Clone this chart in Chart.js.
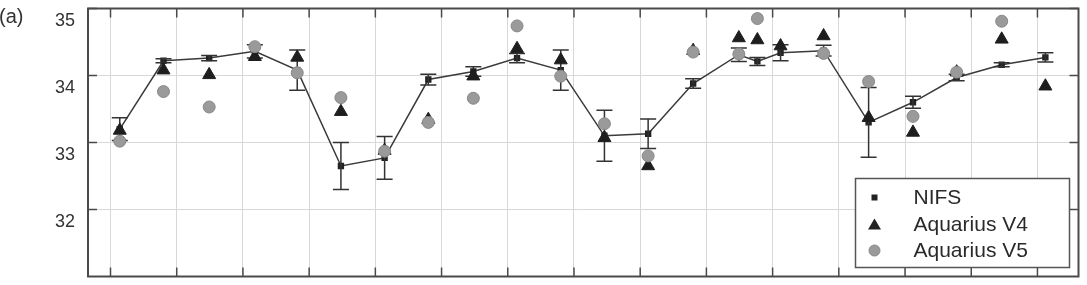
<!DOCTYPE html>
<html>
<head>
<meta charset="utf-8">
<script src="https://cdn.jsdelivr.net/npm/chart.js@4/dist/chart.umd.min.js"></script>
<style>
  html, body { margin: 0; padding: 0; background: #fff; }
  #wrap { width: 1087px; height: 285px; }
</style>
</head>
<body>
<div id="wrap"><canvas id="c" width="1087" height="285"></canvas></div>
<script>
// sampling positions (in grid intervals along the time axis)
const xPos = [0.14, 0.80, 1.49, 2.18, 2.82, 3.48, 4.14, 4.80, 5.48, 6.14, 6.80, 7.46,
              8.12, 8.80, 9.49, 9.77, 10.12, 10.77, 11.45, 12.12, 12.78, 13.46, 14.12];
const nifs = [33.20, 34.22, 34.26, 34.36, 34.08, 32.65, 32.77, 33.94, 34.06, 34.26, 34.08, 33.10,
              33.13, 33.88, 34.31, 34.21, 34.34, 34.37, 33.30, 33.60, 33.97, 34.16, 34.27];
const nifsErr = [0.17, 0.03, 0.04, 0.10, 0.30, 0.35, 0.32, 0.08, 0.07, 0.07, 0.30, 0.38,
                 0.22, 0.07, 0.10, 0.06, 0.12, 0.08, 0.52, 0.09, 0.05, 0.03, 0.07];
const aqV4 = [33.18, 34.08, 34.01, 34.28, 34.27, 33.46, 32.88, 33.34, 33.99, 34.40, 34.23, 33.07,
              32.65, 34.37, 34.56, 34.53, 34.44, 34.59, 33.37, 33.15, 34.05, 34.54, 33.84];
const aqV5 = [33.02, 33.76, 33.53, 34.43, 34.04, 33.67, 32.87, 33.30, 33.66, 34.74, 33.99, 33.28,
              32.80, 34.35, 34.32, 34.85, null, 34.33, 33.91, 33.39, 34.05, 34.81, null];
const yTicks = [32, 33, 34, 35];
const xGrid = [0, 1, 2, 3, 4, 5, 6, 7, 8, 9, 10, 11, 12, 13, 14];
const labels = ['NIFS', 'Aquarius V4', 'Aquarius V5'];

const pts = arr => xPos.map((x, i) => ({ x: x, y: arr[i] })).filter(p => p.y !== null);

const font = "'Liberation Sans', Arial, sans-serif";
const frameColor = '#4a4a4a';

const extras = {
    id: 'extras',
    afterDatasetDraw(chart, args) {
        // error bars on the NIFS series
        if (args.index !== 0) return;
        const ctx = chart.ctx, xs = chart.scales.x, ys = chart.scales.y;
        ctx.save();
        ctx.strokeStyle = '#333';
        ctx.lineWidth = 1.5;
        xPos.forEach((xv, i) => {
            const x = xs.getPixelForValue(xv);
            const y1 = ys.getPixelForValue(nifs[i] + nifsErr[i]);
            const y2 = ys.getPixelForValue(nifs[i] - nifsErr[i]);
            ctx.beginPath();
            ctx.moveTo(x, y1); ctx.lineTo(x, y2);
            ctx.moveTo(x - 8, y1); ctx.lineTo(x + 8, y1);
            ctx.moveTo(x - 8, y2); ctx.lineTo(x + 8, y2);
            ctx.stroke();
        });
        ctx.restore();
    },
    afterDraw(chart) {
        const ctx = chart.ctx, a = chart.chartArea;
        const xs = chart.scales.x, ys = chart.scales.y;
        ctx.save();
        // inner tick marks
        ctx.strokeStyle = frameColor;
        ctx.lineWidth = 1.5;
        ctx.beginPath();
        xGrid.forEach(v => {
            const x = xs.getPixelForValue(v);
            ctx.moveTo(x, a.top); ctx.lineTo(x, a.top + 9);
            ctx.moveTo(x, a.bottom); ctx.lineTo(x, a.bottom - 9);
        });
        yTicks.forEach(v => {
            const y = ys.getPixelForValue(v);
            ctx.moveTo(a.left, y); ctx.lineTo(a.left + 9, y);
            ctx.moveTo(a.right, y); ctx.lineTo(a.right - 9, y);
        });
        ctx.stroke();
        // frame
        ctx.lineWidth = 2;
        ctx.strokeRect(a.left, a.top, a.right - a.left, a.bottom - a.top);

        // panel label
        ctx.fillStyle = '#333';
        ctx.font = '20px ' + font;
        ctx.textBaseline = 'alphabetic';
        ctx.fillText('(a)', -1, 23);

        // legend box
        const bw = 214, bh = 89;
        const bx = a.right - 9 - bw, by = a.bottom - 9 - bh;
        ctx.fillStyle = '#fff';
        ctx.fillRect(bx, by, bw, bh);
        ctx.strokeStyle = '#555';
        ctx.lineWidth = 1.5;
        ctx.strokeRect(bx, by, bw, bh);
        const mx = bx + 19, tx = bx + 58;
        const rows = [by + 19, by + 46, by + 72];
        // square
        ctx.fillStyle = '#222';
        ctx.fillRect(mx - 3, rows[0] - 3, 6, 6);
        // triangle
        ctx.beginPath();
        ctx.moveTo(mx, rows[1] - 6);
        ctx.lineTo(mx + 6.5, rows[1] + 5);
        ctx.lineTo(mx - 6.5, rows[1] + 5);
        ctx.closePath();
        ctx.fill();
        // circle
        ctx.beginPath();
        ctx.arc(mx, rows[2], 5.5, 0, Math.PI * 2);
        ctx.fillStyle = '#9a9a9a';
        ctx.fill();
        ctx.strokeStyle = '#888';
        ctx.lineWidth = 1;
        ctx.stroke();
        ctx.fillStyle = '#2a2a2a';
        ctx.font = '21px ' + font;
        ctx.textBaseline = 'middle';
        labels.forEach((t, i) => ctx.fillText(t, tx, rows[i] + 1));
        ctx.restore();
    }
};

new Chart(document.getElementById('c'), {
    type: 'scatter',
    data: {
        datasets: [
            {
                label: labels[0],
                data: pts(nifs),
                showLine: true,
                borderColor: '#3a3a3a',
                borderWidth: 1.5,
                pointStyle: 'rect',
                pointRadius: 4.5,
                pointBackgroundColor: '#222',
                pointBorderColor: '#222',
                pointBorderWidth: 0,
                order: 3
            },
            {
                label: labels[1],
                data: pts(aqV4),
                pointStyle: 'triangle',
                pointRadius: 7.5,
                pointBackgroundColor: '#1e1e1e',
                pointBorderColor: '#1e1e1e',
                pointBorderWidth: 1,
                order: 2
            },
            {
                label: labels[2],
                data: pts(aqV5),
                pointStyle: 'circle',
                pointRadius: 6,
                pointBackgroundColor: '#9a9a9a',
                pointBorderColor: '#888',
                pointBorderWidth: 1,
                order: 1
            }
        ]
    },
    options: {
        responsive: false,
        animation: false,
        layout: { padding: { left: 0, top: 4, right: 7, bottom: 2 } },
        plugins: {
            legend: { display: false },
            tooltip: { enabled: false }
        },
        scales: {
            x: {
                type: 'linear',
                min: -0.34,
                max: 14.62,
                afterBuildTicks: axis => { axis.ticks = xGrid.map(v => ({ value: v })); },
                ticks: { display: false },
                grid: { color: '#d8d8d8', lineWidth: 1, drawTicks: false },
                border: { display: false }
            },
            y: {
                min: 31,
                max: 35,
                afterBuildTicks: axis => { axis.ticks = yTicks.map(v => ({ value: v })); },
                afterFit: scale => {
                    scale.width = 88;
                    scale.paddingTop = 0;
                    scale.paddingBottom = 0;
                },
                ticks: {
                    color: '#333',
                    font: { family: font, size: 18 },
                    padding: 13,
                    labelOffset: 13
                },
                grid: { color: '#d8d8d8', lineWidth: 1, drawTicks: false },
                border: { display: false }
            }
        }
    },
    plugins: [extras]
});
</script>
</body>
</html>
